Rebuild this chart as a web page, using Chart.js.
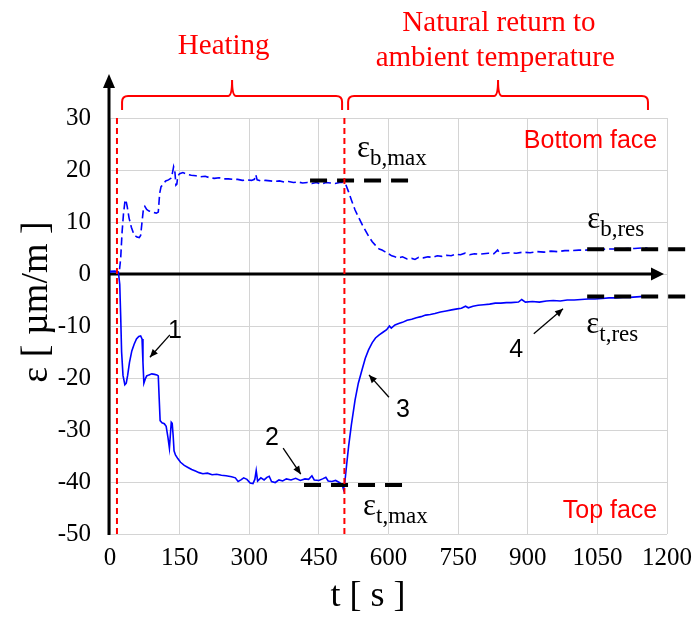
<!DOCTYPE html>
<html>
<head>
<meta charset="utf-8">
<script src="https://cdn.jsdelivr.net/npm/chart.js@4.4.1/dist/chart.umd.min.js"></script>
<style>
  body { margin: 0; background: #fff; }
  canvas { display: block; }
</style>
</head>
<body>
<canvas id="strain_chart" width="697" height="624"></canvas>
<script>
'use strict'
// Top face gauge (solid line): time [s] / strain [µm/m]
let timeTop = [0, 10, 18, 21, 23, 25, 28, 32, 35, 38, 42, 47, 52, 57, 62, 66, 69, 71, 73, 76, 79, 84, 90, 96, 101, 104,
    106, 108, 112, 117, 121, 125, 128, 130, 132, 134, 136, 138, 141, 146, 152, 160, 168, 176, 184, 192, 200, 210, 220,
    230, 240, 250, 262, 270, 276, 282, 288, 295, 302, 308, 312, 315, 318, 325, 332, 338, 343, 348, 356, 364, 372, 380,
    390, 400, 410, 420, 428, 435, 440, 450, 458, 465, 470, 478, 486, 494, 500, 503, 506, 510, 514, 520, 528, 535, 543,
    550, 557, 565, 572, 580, 588, 596, 602, 606, 614, 622, 630, 640, 650, 660, 670, 680, 690, 700, 712, 724, 736, 748,
    757, 766, 772, 782, 793, 805, 818, 830, 842, 854, 864, 880, 887, 895, 910, 925, 940, 955, 970, 985, 1000, 1015,
    1030, 1045, 1060, 1075, 1090, 1105, 1120, 1135, 1150, 1160];
let strainTop = [0.5, 0.5, 0.4, -2, -8, -15, -19.5, -21.3, -21, -19.5, -17, -14.8, -13.5, -12.5, -12, -11.9, -12.5, -17,
    -21, -20.2, -19.6, -19.4, -19.2, -19.3, -19.4, -19.6, -24, -28.2, -28.6, -28.8, -29.3, -31.5, -33.5, -31, -28.5,
    -28.7, -31, -34, -34.8, -35.5, -36.2, -36.8, -37.2, -37.6, -37.9, -38.2, -38.4, -38.3, -38.6, -38.5, -38.7, -38.8,
    -39.0, -39.2, -39.9, -39.6, -39.2, -39.5, -40.2, -40.3, -39.5, -37.8, -39.8, -39.2, -39.6, -39.1, -38.9, -39.9,
    -40.1, -39.6, -39.8, -39.4, -39.6, -39.3, -39.7, -39.4, -39.5, -38.8, -39.6, -39.7, -39.4, -39.1, -39.8, -39.9,
    -39.7, -40.1, -40.5, -41.4, -40.0, -36.5, -33.2, -29, -24.2, -21, -18.4, -16.2, -14.6, -13.2, -12.3, -11.7, -11.2,
    -10.7, -10.0, -10.4, -9.8, -9.5, -9.3, -8.9, -8.7, -8.4, -8.2, -7.9, -7.8, -7.6, -7.3, -7.1, -6.9, -6.7, -6.6,
    -6.2, -6.5, -6.2, -6.0, -5.9, -5.8, -5.6, -5.6, -5.5, -5.5, -5.4, -4.9, -5.4, -5.3, -5.4, -5.2, -5.1, -5.2, -5.0,
    -5.0, -4.9, -4.8, -4.8, -4.7, -4.6, -4.6, -4.5, -4.5, -4.4, -4.3, -4.3];

// Bottom face gauge (dashed line)
let timeBottom = [0, 10, 20, 23, 26, 29, 32, 34, 37, 41, 46, 52, 58, 63, 66, 69, 72, 75, 79, 84, 90, 96, 100, 104, 107,
    110, 115, 120, 126, 131, 134, 137, 140, 142, 144, 146, 150, 157, 165, 175, 185, 195, 205, 215, 225, 235, 245, 255,
    265, 275, 285, 295, 305, 311, 314, 317, 325, 335, 345, 355, 365, 375, 385, 395, 405, 415, 425, 435, 445, 455, 465,
    475, 485, 495, 503, 508, 514, 521, 528, 536, 545, 557, 565, 572, 580, 586, 592, 600, 607, 614, 622, 630, 640, 650,
    657, 665, 675, 685, 695, 705, 715, 725, 735, 745, 755, 765, 775, 785, 795, 805, 815, 827, 835, 840, 850, 860, 875,
    890, 905, 920, 935, 950, 965, 980, 995, 1010, 1025, 1040, 1055, 1070, 1085, 1100, 1115, 1130, 1145, 1158];
let strainBottom = [0.4, 0.5, 0.4, 3, 8, 11.5, 13.8, 14.3, 13, 10.8, 9, 7.5, 7.1, 7.0, 7.4, 10, 12.5, 13, 12.4, 12.1, 12,
    11.8, 11.7, 11.9, 15.5, 16.8, 17.3, 17.9, 18.1, 18.4, 19.2, 20.6, 19.5, 17.1, 17.3, 18.8, 19.3, 19.5, 19.2, 19.0,
    18.9, 18.7, 18.8, 18.5, 18.4, 18.5, 18.3, 18.3, 18.2, 18.2, 18.0, 18.1, 18.0, 18.2, 19.1, 18.1, 17.9, 18.0, 17.9,
    17.8, 17.9, 17.7, 17.8, 17.6, 17.7, 17.5, 17.6, 17.4, 17.6, 17.3, 17.6, 17.5, 17.4, 17.6, 17.6, 17.2, 15.8, 14.0,
    12.3, 10.8, 9.2, 7.3, 6.2, 5.5, 4.8, 4.6, 4.3, 3.9, 3.5, 3.3, 3.1, 3.3, 2.9, 3.0, 2.8, 3.2, 3.1, 3.3, 3.2, 3.5, 3.4,
    3.6, 3.5, 3.8, 3.7, 4.0, 3.7, 3.9, 3.8, 3.9, 4.0, 3.9, 4.6, 3.9, 4.0, 4.1, 4.0, 4.2, 4.1, 4.3, 4.2, 4.4, 4.3, 4.5,
    4.5, 4.6, 4.6, 4.7, 4.7, 4.8, 4.8, 4.8, 4.9, 4.9, 5.0, 5.0];

let xTickValues = [0, 150, 300, 450, 600, 750, 900, 1050, 1200];
let yTickValues = [-50, -40, -30, -20, -10, 0, 10, 20, 30];

// phase limits (red dashed verticals)
let heatingStart = 15;
let heatingEnd = 505;

// characteristic levels (black dashed)
let epsBMax = 18;
let epsTMax = -40.6;
let epsBRes = 4.75;
let epsTRes = -4.35;

let serif = '"Liberation Serif", "Times New Roman", serif';
let sans = '"Liberation Sans", Arial, sans-serif';

function toPoints(ts, vs) {
    return ts.map(function (t, i) {
        return { x: t, y: vs[i] };
    });
}

function levelLine(level, from, to) {
    return {
        data: [{ x: from, y: level }, { x: to, y: level }],
        borderColor: '#000',
        borderWidth: 4,
        borderDash: [17, 10],
        pointRadius: 0,
        clip: false,
    };
}

function phaseLine(t) {
    return {
        data: [{ x: t, y: -50 }, { x: t, y: 30 }],
        borderColor: '#ff0000',
        borderWidth: 2,
        borderDash: [6, 4],
        pointRadius: 0,
    };
}

function arrowHead(ctx, x1, y1, x2, y2, len, half) {
    let ang = Math.atan2(y2 - y1, x2 - x1);
    ctx.beginPath();
    ctx.moveTo(x2, y2);
    ctx.lineTo(x2 - len * Math.cos(ang) + half * Math.sin(ang), y2 - len * Math.sin(ang) - half * Math.cos(ang));
    ctx.lineTo(x2 - len * Math.cos(ang) - half * Math.sin(ang), y2 - len * Math.sin(ang) + half * Math.cos(ang));
    ctx.closePath();
    ctx.fill();
}

function brace(ctx, x1, x2, y, h, tip) {
    let xm = (x1 + x2) / 2;
    let r = 6;
    ctx.beginPath();
    ctx.moveTo(x1, y + h);
    ctx.lineTo(x1, y + r);
    ctx.quadraticCurveTo(x1, y, x1 + r, y);
    ctx.lineTo(xm - 4, y);
    ctx.quadraticCurveTo(xm, y, xm, y - tip);
    ctx.quadraticCurveTo(xm, y, xm + 4, y);
    ctx.lineTo(x2 - r, y);
    ctx.quadraticCurveTo(x2, y, x2, y + r);
    ctx.lineTo(x2, y + h);
    ctx.stroke();
}

function epsLabel(ctx, x, y, sub) {
    ctx.textAlign = 'left';
    ctx.font = '31px ' + serif;
    ctx.fillText('\u03b5', x, y);
    let w = ctx.measureText('\u03b5').width;
    ctx.font = '23px ' + serif;
    ctx.fillText(sub, x + w, y + 8);
}

let decorPlugin = {
    id: 'decor',
    beforeDatasetsDraw: function (chart) {
        let ctx = chart.ctx;
        let area = chart.chartArea;
        let y0 = chart.scales.y.getPixelForValue(0);
        ctx.save();
        ctx.strokeStyle = '#000';
        ctx.fillStyle = '#000';
        ctx.lineWidth = 3;
        // vertical axis with arrow
        ctx.beginPath();
        ctx.moveTo(area.left - 1, area.bottom + 1);
        ctx.lineTo(area.left - 1, 86);
        ctx.stroke();
        arrowHead(ctx, area.left - 1, 100, area.left - 1, 74, 14, 6);
        // horizontal axis at zero with arrow
        ctx.beginPath();
        ctx.moveTo(area.left - 2, y0);
        ctx.lineTo(area.right - 14, y0);
        ctx.stroke();
        arrowHead(ctx, area.left, y0, area.right - 3, y0, 13, 6.5);
        ctx.restore();
    },
    afterDraw: function (chart) {
        let ctx = chart.ctx;
        let xs = chart.scales.x;
        let ys = chart.scales.y;
        let px = function (t) { return xs.getPixelForValue(t); };
        let py = function (v) { return ys.getPixelForValue(v); };
        ctx.save();

        // phase braces and titles
        ctx.strokeStyle = '#ff0000';
        ctx.fillStyle = '#ff0000';
        ctx.lineWidth = 2;
        brace(ctx, px(26), px(500), 96, 14, 16);
        brace(ctx, px(513), px(1159), 96, 14, 16);
        ctx.textAlign = 'center';
        ctx.textBaseline = 'alphabetic';
        ctx.font = '29px ' + serif;
        ctx.fillText('Heating', px(245), 54);
        ctx.fillText('Natural return to', px(838), 31);
        ctx.fillText('ambient temperature', px(830), 66);

        // face labels
        ctx.font = '25px ' + sans;
        ctx.textAlign = 'right';
        ctx.fillText('Bottom face', px(1179), py(24.2));
        ctx.fillText('Top face', px(1179), py(-46.9));

        // epsilon labels
        ctx.fillStyle = '#000';
        epsLabel(ctx, px(532), py(22.5), 'b,max');
        epsLabel(ctx, px(1028), py(8.85), 'b,res');
        epsLabel(ctx, px(1026), py(-11.35), 't,res');
        epsLabel(ctx, px(545), py(-46.3), 't,max');

        // numbered arrows
        let marks = [
            ['1', 140, -12.3, 129, -11.7, 86, -16.0],
            ['2', 349, -32.9, 373, -33.5, 411, -38.5],
            ['3', 631, -27.5, 601, -23.7, 558, -19.4],
            ['4', 875, -16.0, 913, -11.5, 976, -6.7],
        ];
        ctx.font = '25px ' + sans;
        ctx.textAlign = 'center';
        ctx.strokeStyle = '#000';
        ctx.lineWidth = 1.3;
        marks.forEach(function (m) {
            ctx.fillText(m[0], px(m[1]), py(m[2]));
            let x1 = px(m[3]), y1 = py(m[4]), x2 = px(m[5]), y2 = py(m[6]);
            ctx.beginPath();
            ctx.moveTo(x1, y1);
            ctx.lineTo(x2, y2);
            ctx.stroke();
            arrowHead(ctx, x1, y1, x2, y2, 8, 3.5);
        });

        // axis titles
        ctx.font = '36px ' + serif;
        ctx.textAlign = 'center';
        ctx.fillText('t [ s ]', 368, 606);
        ctx.translate(47, 302);
        ctx.rotate(-Math.PI / 2);
        ctx.font = '38px ' + serif;
        ctx.fillText('\u03b5 [ \u00b5m/m ]', 0, 0);
        ctx.restore();
    },
};

let strainChart = new Chart('strain_chart', {
    type: 'line',
    data: {
        datasets: [
            phaseLine(heatingStart),
            phaseLine(heatingEnd),
            levelLine(epsBMax, 431, 648),
            levelLine(epsTMax, 418, 636),
            levelLine(epsBRes, 1028, 1243),
            levelLine(epsTRes, 1028, 1243),
            {
                label: 'Top face',
                data: toPoints(timeTop, strainTop),
                borderColor: '#0000ff',
                borderWidth: 1.6,
                pointRadius: 0,
                tension: 0,
            },
            {
                label: 'Bottom face',
                data: toPoints(timeBottom, strainBottom),
                borderColor: '#0000ff',
                borderWidth: 1.6,
                borderDash: [8, 4],
                pointRadius: 0,
                tension: 0,
            },
        ],
    },
    options: {
        responsive: false,
        animation: false,
        layout: {
            padding: { left: 0, right: 30, top: 118, bottom: 0 },
        },
        plugins: {
            legend: { display: false },
            tooltip: { enabled: false },
        },
        scales: {
            x: {
                type: 'linear',
                min: 0,
                max: 1200,
                afterBuildTicks: function (scale) {
                    scale.ticks = xTickValues.map(function (v) { return { value: v }; });
                },
                afterFit: function (scale) {
                    scale.height = 90;
                    scale.paddingLeft = 0;
                    scale.paddingRight = 0;
                },
                grid: { color: '#d4d4d4', lineWidth: 1, drawTicks: false },
                border: { display: false },
                ticks: {
                    color: '#000',
                    padding: 9,
                    maxRotation: 0,
                    autoSkip: false,
                    font: { family: serif, size: 25 },
                    callback: function (value) { return String(value); },
                },
            },
            y: {
                min: -50,
                max: 30,
                afterBuildTicks: function (scale) {
                    scale.ticks = yTickValues.map(function (v) { return { value: v }; });
                },
                afterFit: function (scale) {
                    scale.width = 110;
                    scale.paddingTop = 0;
                    scale.paddingBottom = 0;
                },
                grid: { color: '#d4d4d4', lineWidth: 1, drawTicks: false },
                border: { display: false },
                ticks: {
                    color: '#000',
                    padding: 19,
                    font: { family: serif, size: 25 },
                    callback: function (value) { return String(value); },
                },
            },
        },
    },
    plugins: [decorPlugin],
});
</script>
</body>
</html>
